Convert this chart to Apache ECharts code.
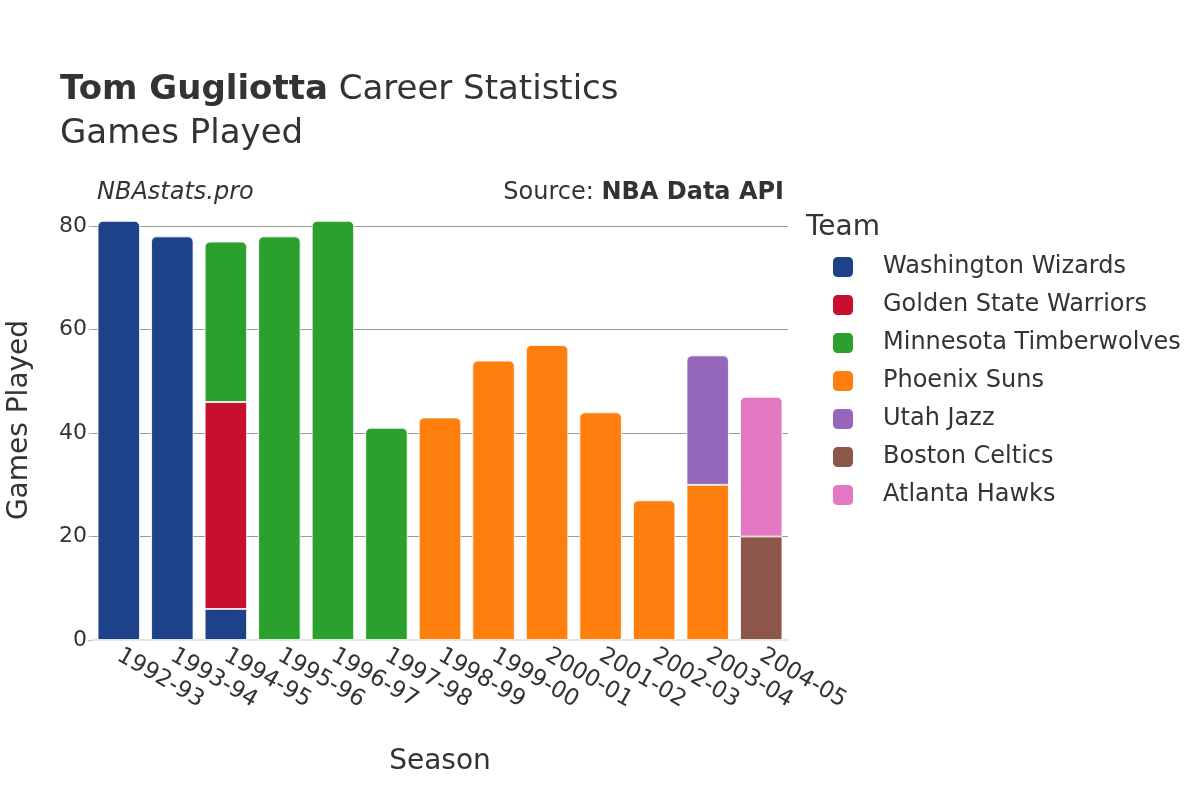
<!DOCTYPE html>
<html><head><meta charset="utf-8">
<script src="https://cdn.jsdelivr.net/npm/echarts@6/dist/echarts.min.js"></script>
<style>html,body{margin:0;padding:0;background:#fff}#c{width:1200px;height:800px}</style>
</head><body><div id="c"></div>
<script>
const seasons = ['1992-93','1993-94','1994-95','1995-96','1996-97','1997-98','1998-99','1999-00','2000-01','2001-02','2002-03','2003-04','2004-05'];
const teams = ['Washington Wizards','Golden State Warriors','Minnesota Timberwolves','Phoenix Suns','Utah Jazz','Boston Celtics','Atlanta Hawks'];
const teamColors = ['#1d428a','#c8102e','#2ca02c','#ff7f0e','#9467bd','#8c564b','#e377c2'];
const washingtonWizards   = [81,78,6,null,null,null,null,null,null,null,null,null,null];
const goldenStateWarriors = [null,null,40,null,null,null,null,null,null,null,null,null,null];
const minnesotaTimberwolves = [null,null,31,78,81,41,null,null,null,null,null,null,null];
const phoenixSuns         = [null,null,null,null,null,null,43,54,57,44,27,30,null];
const utahJazz            = [null,null,null,null,null,null,null,null,null,null,null,25,null];
const bostonCeltics       = [null,null,null,null,null,null,null,null,null,null,null,null,20];
const atlantaHawks        = [null,null,null,null,null,null,null,null,null,null,null,null,27];
const yTicks = [0,20,40,60,80];

const seriesValues = [washingtonWizards,goldenStateWarriors,minnesotaTimberwolves,phoenixSuns,utahJazz,bostonCeltics,atlantaHawks];
const FONT = 'DejaVu Sans';

const topIdx = seasons.map((s,i)=>{let t=-1; seriesValues.forEach((arr,k)=>{if(arr[i]!=null) t=k;}); return t;});
let maxTotal = 0;
seasons.forEach((s,i)=>{let sum=0; seriesValues.forEach(a=>{if(a[i]!=null) sum+=a[i];}); maxTotal=Math.max(maxTotal,sum);});

const series = teams.map((name,k)=>({
  name, type:'bar', stack:'total', barCategoryGap:'21%',
  itemStyle:{color:teamColors[k], borderColor:'#fff', borderWidth:0.8},
  data: seriesValues[k].map((v,i)=> v==null ? null : (topIdx[i]===k ? {value:v, itemStyle:{borderRadius:[5,5,0,0]}} : v))
}));

const chart = echarts.init(document.getElementById('c'), null, {renderer:'canvas'});
chart.setOption({
  animation:false,
  backgroundColor:'#fff',
  textStyle:{fontFamily:FONT},
  title:{
    left:60, top:68, padding:0,
    text:'{b|Tom Gugliotta} Career Statistics\nGames Played',
    textStyle:{fontFamily:FONT, fontSize:34, fontWeight:'normal', color:'#333', lineHeight:44,
      rich:{b:{fontFamily:FONT, fontSize:34, fontWeight:'bold', color:'#333', lineHeight:44}}}
  },
  graphic:[
    {type:'text', left:97, top:181, style:{text:'NBAstats.pro', font:'italic 24px "DejaVu Sans"', fill:'#333'}},
    {type:'text', right:416, top:181, style:{text:'{n|Source: }{b|NBA Data API}', fill:'#333',
      rich:{n:{fontFamily:FONT,fontSize:24,color:'#333'}, b:{fontFamily:FONT,fontSize:24,fontWeight:'bold',color:'#333'}}}},
    {type:'text', left:806, top:214, style:{text:'Team', font:'28px "DejaVu Sans"', fill:'#333'}}
  ],
  legend:{
    orient:'vertical', left:831, top:255, padding:0, itemWidth:22, itemHeight:22, itemGap:14,
    icon:'roundRect', data:teams,
    textStyle:{fontFamily:FONT, fontSize:24, color:'#333', lineHeight:22, padding:[0,0,0,24]}
  },
  grid:{left:92, right:412, top:200, bottom:160, outerBoundsMode:'none', containLabel:false},
  xAxis:{
    type:'category', data:seasons,
    name:'Season', nameLocation:'middle', nameGap:108,
    nameTextStyle:{fontFamily:FONT, fontSize:28, color:'#333'},
    axisLine:{show:true, lineStyle:{color:'#e5e5e5', width:2}},
    axisTick:{show:false},
    axisLabel:{rotate:-30, fontFamily:FONT, fontSize:23, color:'#333', margin:14, interval:0}
  },
  yAxis:{
    type:'value', min:0, max:maxTotal*1.05, interval:20,
    name:'Games Played', nameLocation:'middle', nameGap:58,
    nameTextStyle:{fontFamily:FONT, fontSize:28, color:'#333'},
    axisLine:{show:false},
    axisTick:{show:true, length:4, lineStyle:{color:'#bbb', width:1}},
    axisLabel:{fontFamily:FONT, fontSize:22, color:'#333', margin:5, showMaxLabel:false,
      formatter:v=> yTicks.includes(v) ? String(v) : ''},
    splitLine:{show:true, showMinLine:false, showMaxLine:false, lineStyle:{color:'#999', width:1}}
  },
  series
});
</script></body></html>
